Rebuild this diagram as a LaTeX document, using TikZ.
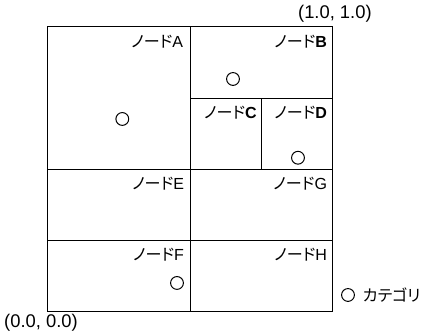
\documentclass[tikz,border=0pt]{standalone}
\usepackage{fontspec}
\setmainfont{Liberation Sans}
\newfontfamily\jp[RawFeature=+palt]{Noto Sans CJK JP}
\usepackage{tikz}
\usetikzlibrary{positioning}

\begin{document}
\begin{tikzpicture}[
cell/.style={
    rectangle,
    draw=black,
    line width=0.6pt,
    inner sep=0pt
},
tag/.style={
    inner sep=0pt,
    font=\fontsize{9.6}{11}\selectfont
},
coordtext/.style={
    inner sep=0pt,
    font=\fontsize{11}{13}\selectfont
},
catdot/.style={
    circle,
    draw=black,
    line width=0.6pt,
    minimum size=0.27cm,
    inner sep=0pt
}
]
\useasboundingbox (-1.01,-0.463) rectangle (7.916,6.568);

\node (A) [cell, minimum width=3cm, minimum height=3cm] at (1.5,4.5) {};
\node (B) [cell, minimum width=3cm, minimum height=1.5cm] at (4.5,5.25) {};
\node (C) [cell, minimum width=1.5cm, minimum height=1.5cm] at (3.75,3.75) {};
\node (D) [cell, minimum width=1.5cm, minimum height=1.5cm] at (5.25,3.75) {};
\node (E) [cell, minimum width=3cm, minimum height=1.5cm] at (1.5,2.25) {};
\node (G) [cell, minimum width=3cm, minimum height=1.5cm] at (4.5,2.25) {};
\node (F) [cell, minimum width=3cm, minimum height=1.5cm] at (1.5,0.75) {};
\node (H) [cell, minimum width=3cm, minimum height=1.5cm] at (4.5,0.75) {};

\node (labA) [tag, below left=0.17cm and 0.16cm of A.north east] {{\jp ノード}A};
\node (labB) [tag, below left=0.17cm and 0.13cm of B.north east] {{\jp ノード}\textbf{B}};
\node (labC) [tag, below left=0.17cm and 0.11cm of C.north east] {{\jp ノード}\textbf{C}};
\node (labD) [tag, below left=0.17cm and 0.13cm of D.north east] {{\jp ノード}\textbf{D}};
\node (labE) [tag, below left=0.17cm and 0.14cm of E.north east] {{\jp ノード}E};
\node (labG) [tag, below left=0.17cm and 0.13cm of G.north east] {{\jp ノード}G};
\node (labF) [tag, below left=0.17cm and 0.14cm of F.north east] {{\jp ノード}F};
\node (labH) [tag, below left=0.17cm and 0.13cm of H.north east] {{\jp ノード}H};

\node (dotA) [catdot] at (1.565,4.063) {};
\node (dotB) [catdot] at (3.895,4.905) {};
\node (dotD) [catdot] at (5.263,3.247) {};
\node (dotF) [catdot] at (2.716,0.611) {};

\node (legdot) [catdot] at (6.316,0.358) {};
\node (legtext) [tag, right=0.16cm of legdot] {\jp カテゴリ};

\node (topright) [coordtext] at (6.04,6.27) {(1.0, 1.0)};
\node (origin) [coordtext] at (-0.147,-0.232) {(0.0, 0.0)};

\end{tikzpicture}
\end{document}
